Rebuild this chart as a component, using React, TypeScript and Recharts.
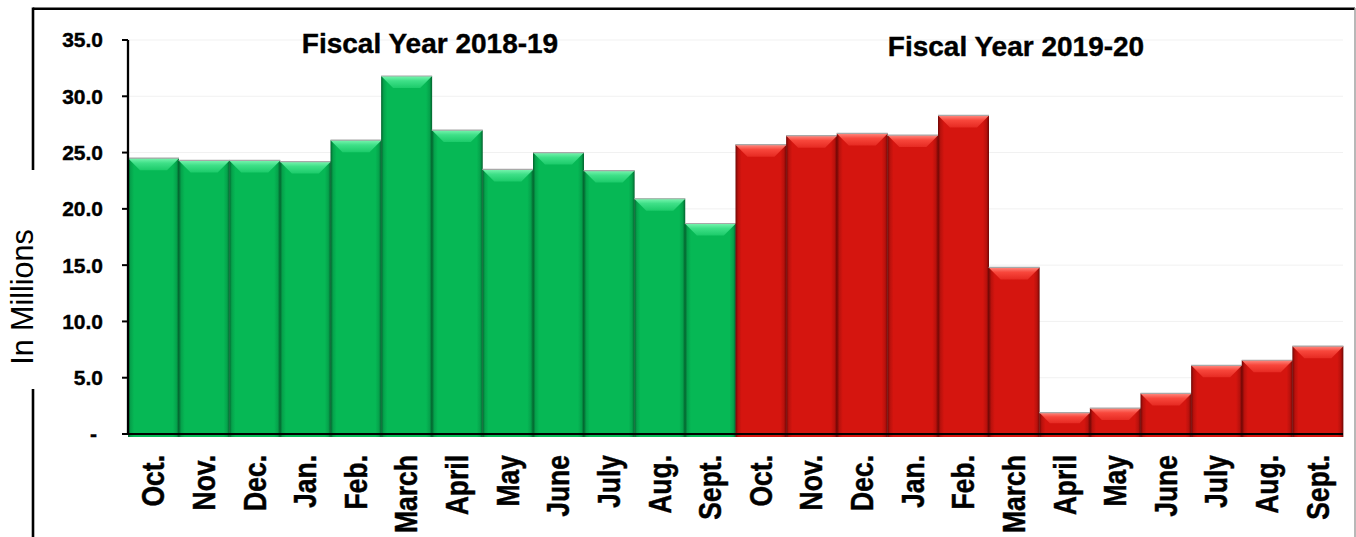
import React from 'react';
import { BarChart, Bar, XAxis, YAxis, CartesianGrid } from 'recharts';

const months = ['Oct.', 'Nov.', 'Dec.', 'Jan.', 'Feb.', 'March', 'April', 'May', 'June', 'July', 'Aug.', 'Sept.'];
const fy1819Values = [24.5, 24.3, 24.3, 24.2, 26.1, 31.8, 27.0, 23.5, 25.0, 23.4, 20.9, 18.7];
const fy1920Values = [25.7, 26.5, 26.7, 26.55, 28.3, 14.8, 1.9, 2.3, 3.6, 6.1, 6.55, 7.8];
const yTicks = [0, 5, 10, 15, 20, 25, 30, 35];
const fiscalTitles = ['Fiscal Year 2018-19', 'Fiscal Year 2019-20'];
const yLabel = 'In Millions';

const W = 1356;
const H = 537;
const FONT = '"Liberation Sans", Arial, sans-serif';

const data = [
  ...fy1819Values.map((v, i) => ({ key: `a${i}`, month: months[i], value: v, fy: 0 })),
  ...fy1920Values.map((v, i) => ({ key: `b${i}`, month: months[i], value: v, fy: 1 })),
];
const monthByKey: Record<string, string> = {};
data.forEach(d => { monthByKey[d.key] = d.month; });

// bar with an Excel-like bevel on top and darker side edges
const BevelBar = (props: any) => {
  const { x, y, width, height, payload } = props;
  if (!width || height == null) return null;
  const tag = payload.fy === 0 ? 'g' : 'r';
  const h = height + 3;
  const b = Math.min(12, height / 2);
  return (
    <g>
      <rect x={x} y={y} width={width} height={h} fill={`url(#side-${tag})`} />
      <polygon
        points={`${x},${y} ${x + width},${y} ${x + width - b},${y + b} ${x + b},${y + b}`}
        fill={`url(#bevel-${tag})`}
      />
      <line x1={x} x2={x + width} y1={y} y2={y} stroke="#a8a8a8" strokeWidth={1.2} />
    </g>
  );
};

const YTick = (props: any) => {
  const { x, y, payload } = props;
  const zero = payload.value === 0;
  return (
    <text
      x={zero ? x - 6 : x}
      y={y}
      dy="0.355em"
      textAnchor="end"
      fontFamily={FONT}
      fontWeight="bold"
      fontSize={21}
      fill="#000"
      stroke="#000"
      strokeWidth={0.4}
    >
      {zero ? '-' : payload.value.toFixed(1)}
    </text>
  );
};

const XTick = (props: any) => {
  const { x, y, payload } = props;
  const ty = y + 21;
  return (
    <text
      x={0}
      y={0}
      dy="0.36em"
      transform={`translate(${x}, ${ty}) rotate(-90) scale(1, 1.15)`}
      textAnchor="end"
      fontFamily={FONT}
      fontWeight="bold"
      fontSize={26.5}
      fill="#000"
      stroke="#000"
      strokeWidth={0.4}
    >
      {monthByKey[payload.value]}
    </text>
  );
};

export default function App() {
  return (
    <div style={{ position: 'absolute', left: 0, top: 0, width: W, height: H, background: '#fff' }}>
      <BarChart
        width={W}
        height={H}
        data={data}
        margin={{ top: 40, right: 13, bottom: 0, left: 0 }}
        barCategoryGap={0}
        barGap={0}
      >
        <defs>
          <linearGradient id="side-g" x1="0" y1="0" x2="1" y2="0">
            <stop offset="0%" stopColor="#03622e" />
            <stop offset="5%" stopColor="#05a24b" />
            <stop offset="12%" stopColor="#06b855" />
            <stop offset="88%" stopColor="#06b855" />
            <stop offset="95%" stopColor="#05a24b" />
            <stop offset="100%" stopColor="#03622e" />
          </linearGradient>
          <linearGradient id="bevel-g" x1="0" y1="0" x2="0" y2="1">
            <stop offset="0%" stopColor="#7af5b0" />
            <stop offset="40%" stopColor="#3fe088" />
            <stop offset="100%" stopColor="#1ccb6a" />
          </linearGradient>
          <linearGradient id="side-r" x1="0" y1="0" x2="1" y2="0">
            <stop offset="0%" stopColor="#6e0705" />
            <stop offset="5%" stopColor="#b8110c" />
            <stop offset="12%" stopColor="#d5150f" />
            <stop offset="88%" stopColor="#d5150f" />
            <stop offset="95%" stopColor="#b8110c" />
            <stop offset="100%" stopColor="#6e0705" />
          </linearGradient>
          <linearGradient id="bevel-r" x1="0" y1="0" x2="0" y2="1">
            <stop offset="0%" stopColor="#ff8a80" />
            <stop offset="40%" stopColor="#f8473c" />
            <stop offset="100%" stopColor="#e62a22" />
          </linearGradient>
        </defs>
        <CartesianGrid vertical={false} stroke="#f1f1f1" />
        <XAxis
          dataKey="key"
          height={103}
          interval={0}
          tickLine={false}
          tickSize={0}
          tickMargin={0}
          axisLine={{ stroke: '#000', strokeWidth: 2 }}
          tick={<XTick />}
        />
        <YAxis
          width={128}
          domain={[0, 35]}
          ticks={yTicks}
          interval={0}
          tickSize={6}
          tickMargin={19}
          axisLine={{ stroke: '#000', strokeWidth: 2.3 }}
          tickLine={{ stroke: '#000', strokeWidth: 2 }}
          tick={<YTick />}
        />
        <Bar dataKey="value" shape={<BevelBar />} isAnimationActive={false} />
      </BarChart>
      <svg
        width={W}
        height={H}
        style={{ position: 'absolute', left: 0, top: 0, pointerEvents: 'none' }}
      >
        <line x1={33} x2={1355} y1={8.7} y2={8.7} stroke="#000" strokeWidth={2.6} />
        <line x1={33} x2={33} y1={7.5} y2={170} stroke="#000" strokeWidth={2.6} />
        <line x1={33} x2={33} y1={389} y2={H} stroke="#000" strokeWidth={2.6} />
        <line x1={1355} x2={1355} y1={8} y2={H} stroke="#a0a0a0" strokeWidth={1.5} />
        <text x={430} y={53} textAnchor="middle" fontFamily={FONT} fontWeight="bold" fontSize={28} stroke="#000" strokeWidth={0.4}>
          {fiscalTitles[0]}
        </text>
        <text x={1016} y={56} textAnchor="middle" fontFamily={FONT} fontWeight="bold" fontSize={28} stroke="#000" strokeWidth={0.4}>
          {fiscalTitles[1]}
        </text>
        <text
          x={33}
          y={297}
          transform="rotate(-90, 33, 297)"
          textAnchor="middle"
          fontFamily={FONT}
          fontSize={30.5}
        >
          {yLabel}
        </text>
      </svg>
    </div>
  );
}
